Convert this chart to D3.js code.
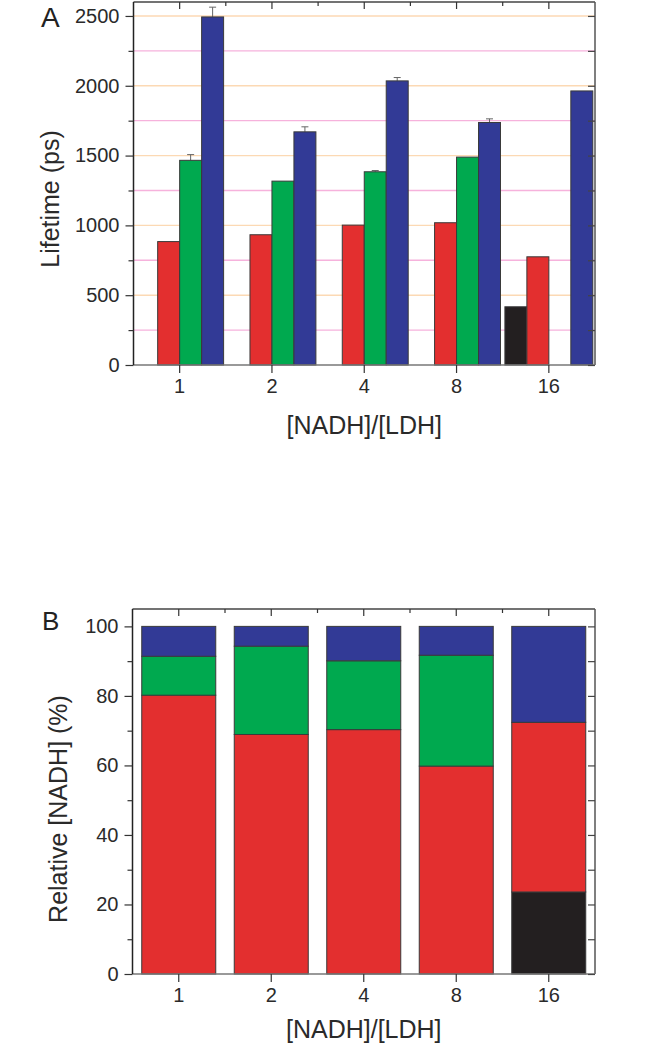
<!DOCTYPE html>
<html>
<head>
<meta charset="utf-8">
<script src="https://cdn.jsdelivr.net/npm/d3@7"></script>
<style>
  html, body { margin: 0; padding: 0; background: #fff; }
  svg { display: block; font-family: "Liberation Sans", Arial, Helvetica, sans-serif; }
</style>
</head>
<body>
<svg id="chart" width="662" height="1050"></svg>
<script>
// ---------- data ----------
const categories = ["1", "2", "4", "8", "16"];
const seriesKeys = ["black", "red", "green", "blue"];
const seriesColors = ["#231f20", "#e32f2f", "#00a94f", "#323a96"];

// Panel A: lifetimes (ps); null = no bar
const lifetimeBlack = [null, null, null, null, 417];
const lifetimeRed   = [884, 933, 1002, 1019, 775];
const lifetimeGreen = [1466, 1317, 1384, 1489, null];
const lifetimeBlue  = [2493, 1670, 2035, 1737, 1963];
// upper error bars (0 = none shown)
const errBlack = [0, 0, 0, 0, 0];
const errRed   = [0, 0, 0, 0, 0];
const errGreen = [41, 0, 9, 0, 0];
const errBlue  = [70, 36, 24, 26, 0];

const lifetimeTicks = [0, 500, 1000, 1500, 2000, 2500];
const lifetimeMinorTicks = [250, 750, 1250, 1750, 2250];

// Panel B: relative [NADH] (%), stacked bottom->top: black, red, green, blue
const relBlack = [0, 0, 0, 0, 23.6];
const relRed   = [80.2, 68.9, 70.3, 59.8, 48.8];
const relGreen = [11.2, 25.4, 19.8, 31.9, 0];
const relBlue  = [8.6, 5.7, 9.9, 8.3, 27.6];

const relTicks = [0, 20, 40, 60, 80, 100];
const relMinorTicks = [10, 30, 50, 70, 90];

// ---------- drawing ----------
const svg = d3.select("#chart");
const FONT_TICK = 20;
const FONT_TITLE = 25;

function styleAxis(g, color) {
  g.select(".domain").remove();
  g.selectAll(".tick line").attr("stroke", color || "#333").attr("stroke-width", 1.2);
  g.selectAll(".tick text").attr("font-size", FONT_TICK).attr("fill", "#2a2a2a")
    .attr("font-family", "\"Liberation Sans\", Arial, sans-serif");
}

function frame(g, L, R, T, B) {
  g.append("line").attr("x1", L).attr("x2", R).attr("y1", T).attr("y2", T).attr("stroke", "#444").attr("stroke-width", 1.5);
  g.append("line").attr("x1", R).attr("x2", R).attr("y1", T).attr("y2", B).attr("stroke", "#555").attr("stroke-width", 1.5);
  g.append("line").attr("x1", L).attr("x2", R).attr("y1", B).attr("y2", B).attr("stroke", "#777").attr("stroke-width", 1.5);
  g.append("line").attr("x1", L).attr("x2", L).attr("y1", T).attr("y2", B).attr("stroke", "#222").attr("stroke-width", 1.5);
}

function decorateAxes(g, x, y, ticks, minorTicks, L, R, T, B) {
  // left major
  g.append("g").attr("transform", `translate(${L},0)`)
    .call(d3.axisLeft(y).tickValues(ticks).tickSize(8).tickPadding(6).tickFormat(d3.format("d")))
    .call(a => styleAxis(a));
  // left minor
  g.append("g").attr("transform", `translate(${L},0)`)
    .call(d3.axisLeft(y).tickValues(minorTicks).tickSize(5).tickFormat(""))
    .call(a => styleAxis(a));
  // right inward
  g.append("g").attr("transform", `translate(${R},0)`)
    .call(d3.axisRight(y).tickValues(ticks.concat(minorTicks)).tickSize(-7).tickFormat(""))
    .call(a => styleAxis(a, "#444"));
  // bottom major
  g.append("g").attr("transform", `translate(0,${B})`)
    .call(d3.axisBottom(x).tickSize(8).tickPadding(6))
    .call(a => styleAxis(a));
  // top inward at categories
  g.append("g").attr("transform", `translate(0,${T})`)
    .call(d3.axisTop(x).tickSize(-7).tickFormat(""))
    .call(a => styleAxis(a));
  // top inward at band boundaries (shorter)
  const bounds = categories.slice(1).map(c => x(c) - x.step() * x.paddingInner() / 2);
  g.append("g").selectAll("line").data(bounds).join("line")
    .attr("x1", d => d).attr("x2", d => d).attr("y1", T).attr("y2", T + 4)
    .attr("stroke", "#333").attr("stroke-width", 1.2);
}

// ===== Panel A =====
(function () {
  const L = 133.5, R = 595, T = 2, B = 365;
  const g = svg.append("g");
  const x = d3.scaleBand().domain(categories).range([L, R]).paddingInner(0).paddingOuter(0);
  const x1 = d3.scaleBand().domain(seriesKeys).range([0, x.bandwidth()]).paddingInner(0).paddingOuter(0.1);
  const y = d3.scaleLinear().domain([0, 2600]).range([B, T]);

  // gridlines
  const grid = lifetimeTicks.filter(v => v > 0).map(v => ({ v, c: "#fcd9b4" }))
    .concat(lifetimeMinorTicks.map(v => ({ v, c: "#f6b2dc" })));
  g.append("g").selectAll("line").data(grid).join("line")
    .attr("x1", L).attr("x2", R).attr("y1", d => y(d.v)).attr("y2", d => y(d.v))
    .attr("stroke", d => d.c).attr("stroke-width", 1.4);

  const values = [lifetimeBlack, lifetimeRed, lifetimeGreen, lifetimeBlue];
  const errs = [errBlack, errRed, errGreen, errBlue];
  const rows = [];
  seriesKeys.forEach((k, si) => {
    categories.forEach((c, ci) => {
      const v = values[si][ci];
      if (v != null) rows.push({ k, c, v, e: errs[si][ci], color: seriesColors[si] });
    });
  });

  const eb = rows.filter(d => d.e > 0);
  const ebG = g.append("g").attr("stroke", "#666").attr("stroke-width", 1);
  ebG.selectAll("line.v").data(eb).join("line").attr("class", "v")
    .attr("x1", d => x(d.c) + x1(d.k) + x1.bandwidth() / 2)
    .attr("x2", d => x(d.c) + x1(d.k) + x1.bandwidth() / 2)
    .attr("y1", d => y(d.v)).attr("y2", d => y(d.v + d.e));
  ebG.selectAll("line.h").data(eb).join("line").attr("class", "h")
    .attr("x1", d => x(d.c) + x1(d.k) + x1.bandwidth() / 2 - 3.5)
    .attr("x2", d => x(d.c) + x1(d.k) + x1.bandwidth() / 2 + 3.5)
    .attr("y1", d => y(d.v + d.e)).attr("y2", d => y(d.v + d.e));

  g.append("g").selectAll("rect").data(rows).join("rect")
    .attr("x", d => x(d.c) + x1(d.k))
    .attr("width", x1.bandwidth())
    .attr("y", d => y(d.v))
    .attr("height", d => y(0) - y(d.v))
    .attr("fill", d => d.color)
    .attr("stroke", "#3a3a3a").attr("stroke-width", 1);

  frame(g, L, R, T, B);
  decorateAxes(g, x, y, lifetimeTicks, lifetimeMinorTicks, L, R, T, B);

  g.append("text").attr("x", 41).attr("y", 27).attr("font-size", 28).attr("fill", "#222").text("A");
  g.append("text").attr("transform", "translate(58.5,199) rotate(-90)")
    .attr("text-anchor", "middle").attr("font-size", FONT_TITLE).attr("fill", "#2a2a2a").text("Lifetime (ps)");
  g.append("text").attr("x", (L + R) / 2).attr("y", 434)
    .attr("text-anchor", "middle").attr("font-size", FONT_TITLE).attr("fill", "#2a2a2a").text("[NADH]/[LDH]");
})();

// ===== Panel B =====
(function () {
  const L = 132.5, R = 595, T = 609, B = 974;
  const g = svg.append("g");
  const x = d3.scaleBand().domain(categories).range([L, R]).paddingInner(0.2).paddingOuter(0.1);
  const y = d3.scaleLinear().domain([0, 105]).range([B, T]);

  const table = categories.map((c, i) => ({
    c, black: relBlack[i], red: relRed[i], green: relGreen[i], blue: relBlue[i]
  }));
  const stack = d3.stack().keys(seriesKeys)(table);

  stack.forEach((layer, si) => {
    g.append("g").selectAll("rect").data(layer.filter(d => d[1] - d[0] > 0)).join("rect")
      .attr("x", d => x(d.data.c))
      .attr("width", x.bandwidth())
      .attr("y", d => y(d[1]))
      .attr("height", d => y(d[0]) - y(d[1]))
      .attr("fill", seriesColors[si])
      .attr("stroke", "#3a3a3a").attr("stroke-width", 1);
  });

  frame(g, L, R, T, B);
  decorateAxes(g, x, y, relTicks, relMinorTicks, L, R, T, B);

  g.append("text").attr("x", 42).attr("y", 629.5).attr("font-size", 26).attr("fill", "#222").text("B");
  g.append("text").attr("transform", "translate(66.5,809) rotate(-90)")
    .attr("text-anchor", "middle").attr("font-size", FONT_TITLE).attr("fill", "#2a2a2a").text("Relative [NADH] (%)");
  g.append("text").attr("x", (L + R) / 2).attr("y", 1038)
    .attr("text-anchor", "middle").attr("font-size", FONT_TITLE).attr("fill", "#2a2a2a").text("[NADH]/[LDH]");
})();
</script>
</body>
</html>
